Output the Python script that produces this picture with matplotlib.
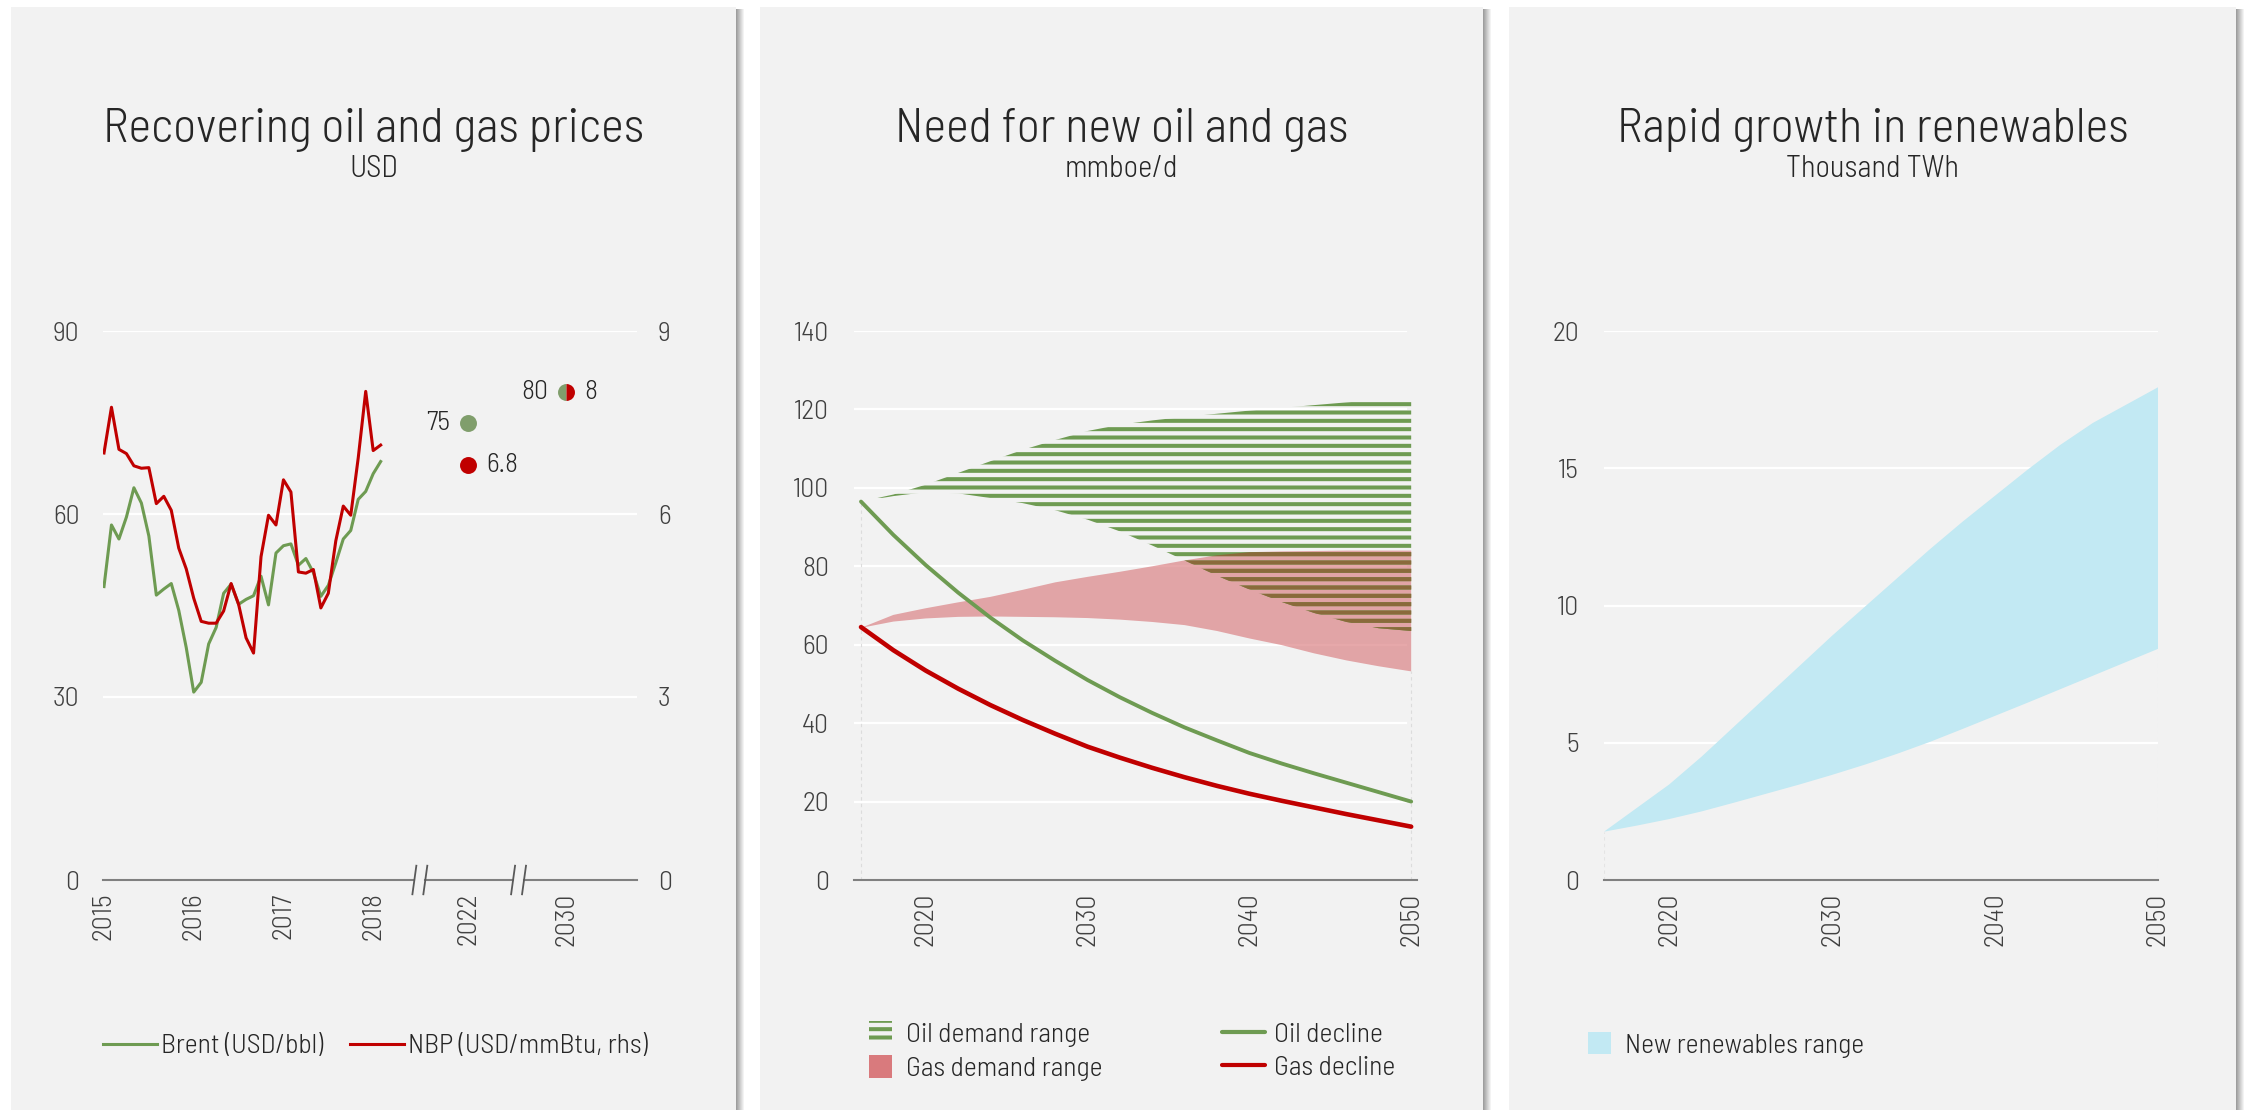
import numpy as np
import matplotlib
matplotlib.use('Agg')
import matplotlib.pyplot as plt
from matplotlib.patches import Rectangle, Patch
from matplotlib.lines import Line2D
import matplotlib.transforms as mtransforms

plt.rcParams['font.family'] = ['Barlow Semi Condensed', 'DejaVu Sans']
plt.rcParams['font.weight'] = 300
plt.rcParams['hatch.linewidth'] = 2.9

# ---------------- data ----------------
# Panel 1: monthly prices Jan 2015 - Feb 2018
brent = [48.1, 58.2, 55.9, 59.5, 64.3, 61.8, 56.4, 46.7, 47.7, 48.6, 44.2, 38.1,
         30.8, 32.4, 38.7, 41.4, 47.0, 48.5, 45.2, 46.0, 46.6, 49.8, 45.1, 53.6,
         54.8, 55.1, 51.6, 52.7, 50.4, 46.5, 48.3, 52.0, 55.9, 57.3, 62.4, 63.7,
         66.6, 68.6]
nbp = [7.0, 7.75, 7.06, 6.99, 6.79, 6.75, 6.76, 6.17, 6.29, 6.06, 5.44, 5.10,
       4.62, 4.24, 4.21, 4.21, 4.41, 4.86, 4.52, 3.97, 3.72, 5.30, 5.98, 5.82,
       6.56, 6.36, 5.05, 5.03, 5.09, 4.46, 4.70, 5.56, 6.13, 5.98, 6.92, 8.01,
       7.04, 7.13]
year_labels_hist = ['2015', '2016', '2017', '2018']
forecast_labels = ['2022', '2030']
brent_forecast = [75, 80]
nbp_forecast = [6.8, 8]

# Panel 2: mmboe/d
years_mid = [2016, 2018, 2020, 2022, 2024, 2026, 2028, 2030, 2032, 2034,
             2036, 2038, 2040, 2042, 2044, 2046, 2048, 2050]
oil_high = [96.5, 98.3, 100.8, 103.8, 106.8, 109.7, 112.2, 114.5, 116.1, 117.2,
            118.1, 118.9, 119.7, 120.4, 121.1, 121.8, 122.4, 122.8]
oil_low = [96.5, 97.9, 98.9, 98.6, 97.4, 96.1, 94.3, 91.9, 88.9, 85.3,
           81.5, 77.6, 74.1, 70.9, 68.1, 65.8, 64.2, 63.5]
gas_high = [64.3, 67.6, 69.3, 70.8, 72.2, 74.0, 75.9, 77.3, 78.6, 80.0,
            81.5, 82.8, 83.6, 83.8, 83.9, 84.0, 84.0, 84.0]
gas_low = [64.3, 65.9, 66.7, 67.1, 67.2, 67.1, 67.0, 66.8, 66.4, 65.8,
           65.0, 63.5, 61.6, 59.9, 57.8, 56.0, 54.5, 53.2]
oil_decline = [96.5, 88.0, 80.3, 73.3, 66.9, 61.1, 55.9, 51.0, 46.6, 42.6,
               38.9, 35.6, 32.4, 29.7, 27.2, 24.8, 22.4, 20.0]
gas_decline = [64.5, 58.6, 53.4, 48.8, 44.6, 40.8, 37.3, 34.0, 31.2, 28.6,
               26.2, 24.0, 22.0, 20.2, 18.5, 16.8, 15.2, 13.6]

# Panel 3: Thousand TWh
years_ren = [2016, 2018, 2020, 2022, 2024, 2026, 2028, 2030, 2032, 2034,
             2036, 2038, 2040, 2042, 2044, 2046, 2048, 2050]
ren_high = [1.76, 2.62, 3.48, 4.5, 5.6, 6.7, 7.8, 8.9, 9.95, 11.0,
            12.05, 13.05, 14.0, 14.95, 15.85, 16.65, 17.3, 17.95]
ren_low = [1.76, 1.98, 2.22, 2.5, 2.82, 3.15, 3.48, 3.83, 4.2, 4.6,
           5.03, 5.5, 5.98, 6.46, 6.95, 7.44, 7.93, 8.42]

# ---------------- styles ----------------
GREEN = '#6e9b52'
GREEN_DOT = '#809e6c'
RED = '#c00000'
PINK = '#d97a7d'
BROWN = '#8a6a3b'
BLUE = '#c2e9f3'
PANEL = '#f2f2f2'
TXT = '#262626'
TICK = '#404040'
AXC = '#808080'
FS = 20

W, H = 2247, 1110
fig = plt.figure(figsize=(W / 100, H / 100), dpi=100, facecolor='white')


def rect(x0, x1, ytop, ybot):
    return [x0 / W, 1 - ybot / H, (x1 - x0) / W, (ybot - ytop) / H]


# panels with shadow
panels = [(11, 736), (760, 1483), (1509, 2236)]
for x0, x1 in panels:
    fig.patches.append(Rectangle((x0 / W, 0), (x1 - x0) / W, (H - 7) / H,
                                 transform=fig.transFigure, facecolor=PANEL,
                                 edgecolor='none', zorder=-3))
    for i in range(8):
        g = 0.62 + 0.38 * i / 8
        fig.patches.append(Rectangle(((x1 + i) / W, 0), 1.0 / W, (H - 9) / H,
                                     transform=fig.transFigure, facecolor=(g, g, g),
                                     edgecolor='none', zorder=-2))

titles = [('Recovering oil and gas prices', 'USD'),
          ('Need for new oil and gas', 'mmboe/d'),
          ('Rapid growth in renewables', 'Thousand TWh')]
for (x0, x1), (t, s) in zip(panels, titles):
    cx = (x0 + x1) / 2 / W
    fig.text(cx, 1 - 130 / H, t, ha='center', va='center', fontsize=35,
             fontweight=300, color=TXT)
    fig.text(cx, 1 - 169 / H, s, ha='center', va='center', fontsize=22, color=TXT)


def base_style(ax):
    for sp in ax.spines.values():
        sp.set_visible(False)
    ax.tick_params(length=0, labelsize=FS, labelcolor=TICK)


# ---------------- panel 1 ----------------
ax1 = fig.add_axes(rect(103, 637, 331, 880), facecolor='none')
base_style(ax1)
x_lo, x_hi = 2014.989, 2020.94
ax1.set_xlim(x_lo, x_hi)
ax1.set_ylim(0, 90)
ax1.set_yticks([0, 30, 60, 90])
for y in [30, 60, 90]:
    ax1.axhline(y, color='white', lw=1.6, zorder=0.5)
months = 2015 + np.arange(len(brent)) / 12.0
fc_pos = [2019.06, 2020.15]
ax1.plot(months, brent, color=GREEN, lw=2.2, zorder=3)

ax2 = ax1.twinx()
base_style(ax2)
ax2.set_ylim(0, 9)
ax2.set_yticks([0, 3, 6, 9])
ax2.plot(months, nbp, color=RED, lw=2.2, zorder=3)

ax1.set_xticks([2015, 2016, 2017, 2018] + fc_pos)
ax1.set_xticklabels(year_labels_hist + forecast_labels, rotation=90)
ax1.tick_params(axis='x', pad=9)
ax1.tick_params(axis='y', pad=17)
ax2.tick_params(axis='y', pad=15)

# broken axis line
bt = mtransforms.blended_transform_factory(ax1.transData, ax1.transAxes)
breaks = [2018.52, 2019.62]
gap = 0.061
segs = [(x_lo, breaks[0] - gap), (breaks[0] + gap, breaks[1] - gap), (breaks[1] + gap, x_hi)]
for a, b in segs:
    ax1.plot([a, b], [0, 0], transform=bt, color=AXC, lw=1.5, clip_on=False, zorder=2)
for b in breaks:
    for s in (-gap, gap):
        ax1.plot([b + s - 0.022, b + s + 0.022], [-0.026, 0.026], transform=bt,
                 color='#595959', lw=1.3, clip_on=False, zorder=2)

# forecasts
ax1.plot([fc_pos[0]], [brent_forecast[0]], 'o', ms=12.2, color=GREEN_DOT, mew=0, zorder=4)
ax2.plot([fc_pos[0]], [nbp_forecast[0]], 'o', ms=12.2, color=RED, mew=0, zorder=4)
ax1.plot([fc_pos[1]], [brent_forecast[1]], 'o', ms=12.2, fillstyle='left',
         markerfacecolor=GREEN_DOT, markerfacecoloralt=RED, mew=0, zorder=4)
ax1.annotate(f'{brent_forecast[0]}', (fc_pos[0], brent_forecast[0]), xytext=(-13, 0),
             textcoords='offset points', ha='right', va='center', fontsize=FS, color=TXT)
ax2.annotate(f'{nbp_forecast[0]}', (fc_pos[0], nbp_forecast[0]), xytext=(13, 0),
             textcoords='offset points', ha='left', va='center', fontsize=FS, color=TXT)
ax1.annotate(f'{brent_forecast[1]}', (fc_pos[1], brent_forecast[1]), xytext=(-13, 0),
             textcoords='offset points', ha='right', va='center', fontsize=FS, color=TXT)
ax2.annotate(f'{nbp_forecast[1]}', (fc_pos[1], nbp_forecast[1]), xytext=(13, 0),
             textcoords='offset points', ha='left', va='center', fontsize=FS, color=TXT)

leg_kw = dict(frameon=False, borderpad=0, borderaxespad=0, fontsize=FS,
              labelcolor=TXT, loc='center left')
fig.legend([Line2D([], [], color=GREEN, lw=2.2)], ['Brent (USD/bbl)'],
           bbox_to_anchor=(103 / W, 1 - 1046 / H), handlelength=1.94,
           handletextpad=0.15, **leg_kw)
fig.legend([Line2D([], [], color=RED, lw=2.2)], ['NBP (USD/mmBtu, rhs)'],
           bbox_to_anchor=(350 / W, 1 - 1046 / H), handlelength=1.94,
           handletextpad=0.15, **leg_kw)

# ---------------- panel 2 ----------------
ax3 = fig.add_axes(rect(854, 1417, 331, 880), facecolor='none')
base_style(ax3)
ax3.set_xlim(2015.567, 2050.36)
ax3.set_ylim(0, 140)
ax3.set_yticks(range(0, 141, 20))
ax3.set_xticks([2020, 2030, 2040, 2050])
ax3.set_xticklabels(['2020', '2030', '2040', '2050'], rotation=90)
ax3.tick_params(axis='x', pad=9)
ax3.tick_params(axis='y', pad=18)
for y in range(20, 141, 20):
    ax3.axhline(y, xmin=0, xmax=0.981, color='white', lw=1.6, zorder=0.5)
ax3.axhline(0, color=AXC, lw=1.5, zorder=2, clip_on=False)

ym = np.array(years_mid, dtype=float)
oh, ol = np.array(oil_high), np.array(oil_low)
gh, gl = np.array(gas_high), np.array(gas_low)
ax3.vlines([ym[0]], 0, oil_decline[0], colors='#dcdcdc', lw=0.8,
           linestyles=(0, (3, 3)), zorder=1)
ax3.vlines([ym[-1]], 0, gl[-1], colors='#dcdcdc', lw=0.8,
           linestyles=(0, (3, 3)), zorder=1)
ax3.fill_between(ym, gl, gh, facecolor=PINK, alpha=0.65, lw=0, zorder=2)
ax3.fill_between(ym, ol, oh, facecolor='none', edgecolor=GREEN, hatch='--', lw=0, zorder=3)
lo = np.maximum(ol, gl)
hi = np.minimum(oh, gh)
ax3.fill_between(ym, lo, hi, where=hi > lo, interpolate=True, facecolor='none',
                 edgecolor=BROWN, hatch='--', lw=0, zorder=4)
ax3.plot(ym, oil_decline, color=GREEN, lw=2.8, zorder=5, solid_capstyle='round')
ax3.plot(ym, gas_decline, color=RED, lw=3.3, zorder=5, solid_capstyle='round')

fig.legend([Patch(facecolor='none', edgecolor=GREEN, hatch='--', lw=0),
            Patch(facecolor=PINK, lw=0)],
           ['Oil demand range', 'Gas demand range'],
           bbox_to_anchor=(869 / W, 1 - 1051 / H), handlelength=0.83,
           handleheight=0.86, handletextpad=0.5, labelspacing=0.32, **leg_kw)
fig.legend([Line2D([], [], color=GREEN, lw=3.0, solid_capstyle='round'),
            Line2D([], [], color=RED, lw=3.0, solid_capstyle='round')],
           ['Oil decline', 'Gas decline'],
           bbox_to_anchor=(1222 / W, 1 - 1051 / H), handlelength=1.55,
           handletextpad=0.32, labelspacing=0.32, **leg_kw)

# ---------------- panel 3 ----------------
ax4 = fig.add_axes(rect(1604, 2158, 331, 880), facecolor='none')
base_style(ax4)
ax4.set_xlim(2016, 2050)
ax4.set_ylim(0, 20)
ax4.set_yticks([0, 5, 10, 15, 20])
ax4.set_xticks([2020, 2030, 2040, 2050])
ax4.set_xticklabels(['2020', '2030', '2040', '2050'], rotation=90)
ax4.tick_params(axis='x', pad=9)
ax4.tick_params(axis='y', pad=18)
for y in [5, 10, 15, 20]:
    ax4.axhline(y, color='white', lw=1.6, zorder=0.5)
ax4.axhline(0, color=AXC, lw=1.5, zorder=2, clip_on=False)
yr = np.array(years_ren, dtype=float)
ax4.vlines([yr[0]], 0, ren_low[0], colors='#e4e4e4', lw=0.8, linestyles=(0, (3, 3)), zorder=1)
ax4.vlines([yr[-1]], 0, ren_low[-1], colors='#e4e4e4', lw=0.8, linestyles=(0, (3, 3)), zorder=1)
ax4.fill_between(yr, ren_low, ren_high, facecolor=BLUE, lw=0, zorder=2)

fig.legend([Patch(facecolor=BLUE, lw=0)], ['New renewables range'],
           bbox_to_anchor=(1588 / W, 1 - 1045 / H), handlelength=0.83,
           handleheight=0.86, handletextpad=0.5, **leg_kw)

fig.savefig('out.png', dpi=100, facecolor='white')
